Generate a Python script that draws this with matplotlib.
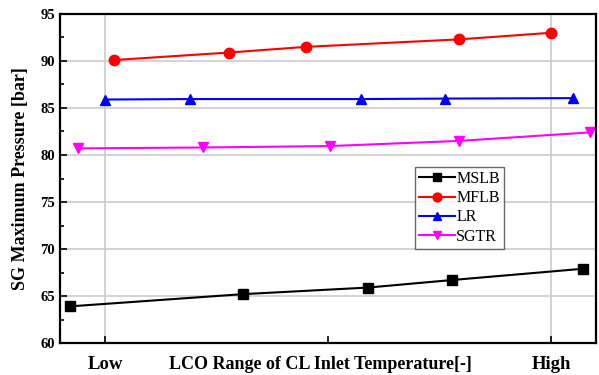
import numpy as np
import matplotlib
matplotlib.use('Agg')
import matplotlib.pyplot as plt
from matplotlib.ticker import MultipleLocator

plt.rcParams['font.family'] = ['Liberation Serif', 'DejaVu Serif']

# x position on a 0 (Low) .. 1 (High) scale
mslb_x = [-0.078, 0.310, 0.590, 0.778, 1.072]
mslb_y = [63.9, 65.2, 65.9, 66.7, 67.9]
mflb_x = [0.020, 0.278, 0.450, 0.794, 1.0]
mflb_y = [90.1, 90.9, 91.5, 92.3, 93.0]
lr_x = [0.0, 0.191, 0.574, 0.762, 1.049]
lr_y = [85.9, 85.95, 85.95, 86.0, 86.05]
sgtr_x = [-0.061, 0.220, 0.504, 0.794, 1.087]
sgtr_y = [80.7, 80.8, 80.95, 81.5, 82.4]

fig = plt.figure(figsize=(5.99, 3.75), dpi=100)
ax = fig.add_axes([0.1002, 0.0853, 0.8948, 0.8774])

ax.plot(mslb_x, mslb_y, color='black', marker='s', ms=6.5, lw=1.5, label='MSLB')
ax.plot(mflb_x, mflb_y, color='red', marker='o', ms=7.5, lw=1.5, label='MFLB')
ax.plot(lr_x, lr_y, color='blue', marker='^', ms=7.5, lw=1.5, label='LR')
ax.plot(sgtr_x, sgtr_y, color='magenta', marker='v', ms=7.5, lw=1.5, label='SGTR')

ax.set_xlim(-0.1009, 1.1009)
ax.set_ylim(60, 95)
ax.yaxis.set_major_locator(MultipleLocator(5))
ax.yaxis.set_minor_locator(MultipleLocator(2.5))
ax.set_xticks([0, 0.5, 1])
ax.set_xticklabels(['Low', '', 'High'], fontsize=13.5, fontweight='bold')
ax.tick_params(axis='both', direction='in', length=5, width=1.2)
ax.tick_params(axis='y', which='minor', direction='in', length=3, width=1.2)
ax.tick_params(axis='x', pad=9)
for lbl in ax.get_yticklabels():
    lbl.set_fontweight('bold')
    lbl.set_fontsize(10.5)

ax.grid(axis='y', color='#cccccc', lw=1.2)
for xv in [0, 1]:
    ax.axvline(xv, color='#cccccc', lw=1.2, zorder=0)
ax.set_axisbelow(True)

for s in ax.spines.values():
    s.set_linewidth(1.6)

ax.set_ylabel('SG Maximum Pressure [bar]', fontsize=13, fontweight='bold', labelpad=8)
ax.text(0.485, -0.066, 'LCO Range of CL Inlet Temperature[-]', transform=ax.transAxes,
        ha='center', va='center', fontsize=13, fontweight='bold')

leg = ax.legend(loc='upper left', bbox_to_anchor=(0.663, 0.535), fontsize=11.5,
                frameon=True, fancybox=False, edgecolor='#444444', handlelength=2.2,
                handletextpad=0.1, borderpad=0.25, labelspacing=0.2, borderaxespad=0,
                markerscale=0.85)
leg.get_frame().set_linewidth(1.0)

fig.savefig('out.png', dpi=100)
